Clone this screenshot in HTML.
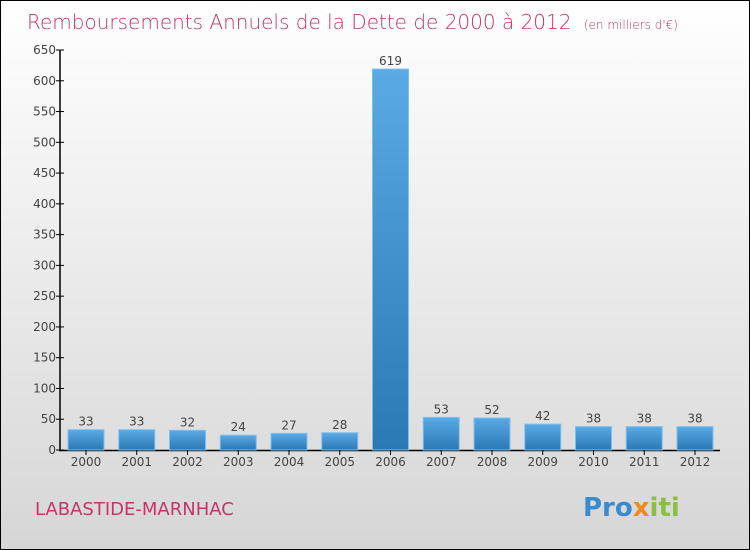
<!DOCTYPE html>
<html><head><meta charset="utf-8"><style>
body{margin:0}
svg{display:block;font-family:"DejaVu Sans","Liberation Sans",sans-serif}
</style></head><body>
<svg id="c" width="750" height="550" xmlns="http://www.w3.org/2000/svg">
<defs>
<linearGradient id="bg" x1="0" y1="0" x2="0" y2="1"><stop offset="0" stop-color="#ffffff"/><stop offset="1" stop-color="#d6d6d6"/></linearGradient>
<linearGradient id="bar" x1="0" y1="0" x2="0" y2="1"><stop offset="0" stop-color="#5aaae6"/><stop offset="1" stop-color="#2a78b4"/></linearGradient>
</defs>
<rect x="0.5" y="0.5" width="749" height="549" fill="url(#bg)" stroke="#000"/>
<text x="27" y="29" font-size="20" fill="#c8336a" font-weight="300">Remboursements Annuels de la Dette de 2000 à 2012 <tspan font-size="12" dx="6">(en milliers d'€)</tspan></text>
<line x1="60" y1="50" x2="60" y2="451" stroke="#000" stroke-width="1.5"/>
<line x1="59" y1="450.5" x2="720" y2="450.5" stroke="#000" stroke-width="1.5"/>
<g id="g"></g>
<text x="35" y="515" font-size="18" fill="#c8336a">LABASTIDE-MARNHAC</text>
<text x="583" y="516" font-size="26" font-weight="bold"><tspan fill="#3a8ad0">Pro</tspan><tspan fill="#f08a20">x</tspan><tspan fill="#8ac040">iti</tspan></text>
</svg>
<script>
const years=["2000","2001","2002","2003","2004","2005","2006","2007","2008","2009","2010","2011","2012"];
const values=[33,33,32,24,27,28,619,53,52,42,38,38,38];
const yTicks=[0,50,100,150,200,250,300,350,400,450,500,550,600,650];
const ns="http://www.w3.org/2000/svg",g=document.getElementById("g");
const y=v=>450-v*400/650, x=i=>86+i*50.75;
function mk(t,a){const e=document.createElementNS(ns,t);for(const k in a)e.setAttribute(k,a[k]);g.appendChild(e);return e;}
yTicks.forEach(v=>{
 const l=mk("line",{x1:56,x2:64,y1:y(v),y2:y(v),stroke:"#000"});
 
 
 const t=mk("text",{x:56,y:y(v)+4,"font-size":12,fill:"#444","text-anchor":"end"});t.textContent=v;
 
 
});
years.forEach((yr,i)=>{
 const b=mk("rect",{x:x(i)-18,y:y(values[i]),width:36,height:450-y(values[i]),fill:"url(#bar)",stroke:"#7cc0f0","stroke-width":1});
 
 
 const tl=mk("line",{x1:x(i),x2:x(i),y1:450,y2:455,stroke:"#000"});
 
 
 const t=mk("text",{x:x(i),y:466,"font-size":12,fill:"#444","text-anchor":"middle"});t.textContent=yr;
 
 
 const v=mk("text",{x:x(i),y:y(values[i])-4,"font-size":12,fill:"#444","text-anchor":"middle"});v.textContent=values[i];
 
 
});
</script>
</body></html>
